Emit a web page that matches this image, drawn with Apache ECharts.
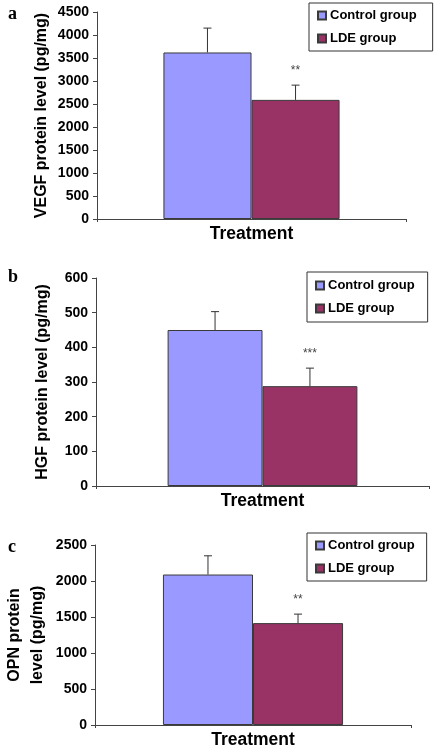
<!DOCTYPE html>
<html>
<head>
<meta charset="utf-8">
<script src="https://cdn.jsdelivr.net/npm/echarts@6/dist/echarts.min.js"></script>
<style>
html,body{margin:0;padding:0;background:#fff;}
#main{width:437px;height:749px;}
</style>
</head>
<body>
<div id="main"></div>
<script>
// ---- data ----
const categories = ['Treatment'];
const groupNames = ['Control group', 'LDE group'];
const panelLetters = ['a', 'b', 'c'];
const yNames = ['VEGF protein level (pg/mg)', 'HGF protein level (pg/mg)', 'OPN protein\nlevel (pg/mg)'];
const yMax = [4500, 600, 2500];
const yInterval = [500, 100, 500];
const vegfControl = [3620];
const vegfLDE = [2590];
const vegfControlErr = [530];
const vegfLDEErr = [320];
const hgfControl = [450];
const hgfLDE = [288];
const hgfControlErr = [53];
const hgfLDEErr = [52];
const opnControl = [2090];
const opnLDE = [1415];
const opnControlErr = [260];
const opnLDEErr = [125];
const stars = ['**', '***', '**'];

// ---- layout / style ----
const FONT = '"Liberation Sans", Arial, sans-serif';
const CTRL = '#9999FF';
const LDE = '#993366';
const EDGE = '#3a3a3a';
const GAP = 0.43;
const grids = [
  {left: 97, right: 31, top: 12, height: 207},
  {left: 96, right: 8, top: 278, height: 208},
  {left: 95, right: 26, top: 545, height: 180}
];
const legendPos = [
  {left: 309, top: 3, padding: [5, 16, 5, 8]},
  {left: 307, top: 272, padding: [6, 13, 6, 8]},
  {left: 307, top: 533, padding: [5, 12, 5, 8]}
];
const nameGaps = [44, 42, 46];
const letterTops = [5, 268, 538];

const panels = [
  {c: vegfControl, l: vegfLDE, ce: vegfControlErr, le: vegfLDEErr},
  {c: hgfControl, l: hgfLDE, ce: hgfControlErr, le: hgfLDEErr},
  {c: opnControl, l: opnLDE, ce: opnControlErr, le: opnLDEErr}
];

function errRender(params, api) {
  const cat = api.value(0);
  const mean = api.value(1);
  const err = api.value(2);
  const gi = api.value(3);
  const x = api.coord([cat, 0])[0];
  const band = api.size([1, 0])[0];
  const bw = band * (1 - GAP) / 2;
  const cx = x + (gi === 0 ? -bw / 2 : bw / 2);
  const base = api.coord([cat, mean])[1];
  const top = api.coord([cat, mean + err])[1];
  const children = [
    {type: 'line', shape: {x1: cx, y1: base, x2: cx, y2: top}, style: {stroke: '#333', lineWidth: 1}},
    {type: 'line', shape: {x1: cx - 4, y1: top, x2: cx + 4, y2: top}, style: {stroke: '#333', lineWidth: 1}}
  ];
  const label = api.value(4);
  if (gi === 1 && label) {
    children.push({type: 'text', style: {x: cx, y: top - 8, text: label, fill: '#444', font: '12px ' + FONT, align: 'center', verticalAlign: 'bottom'}});
  }
  return {type: 'group', children: children};
}

const option = {
  animation: false,
  backgroundColor: '#fff',
  title: panelLetters.map((t, i) => ({
    text: t, left: 8, top: letterTops[i], padding: 0,
    textStyle: {fontFamily: '"Liberation Serif", "Times New Roman", serif', fontWeight: 'bold', fontSize: 18, color: '#000'}
  })),
  grid: grids.map(g => Object.assign({containLabel: false, outerBoundsMode: 'none'}, g)),
  legend: legendPos.map(p => ({
    data: groupNames,
    orient: 'vertical',
    left: p.left, top: p.top, padding: p.padding,
    itemGap: 8, itemWidth: 8, itemHeight: 8,
    icon: 'rect',
    borderColor: '#333', borderWidth: 1,
    selectedMode: false,
    textStyle: {fontFamily: FONT, fontWeight: 'bold', fontSize: 13, color: '#000', lineHeight: 15, padding: [0, 0, 0, -1]}
  })),
  xAxis: grids.map((g, i) => ({
    type: 'category', gridIndex: i, data: categories,
    axisLine: {lineStyle: {color: '#444', width: 1}},
    axisTick: {show: true, length: 3, lineStyle: {color: '#444'}},
    axisLabel: {margin: 6, fontFamily: FONT, fontWeight: 'bold', fontSize: 17.5, color: '#000'}
  })),
  yAxis: grids.map((g, i) => ({
    type: 'value', gridIndex: i, min: 0, max: yMax[i], interval: yInterval[i],
    name: yNames[i], nameLocation: 'middle', nameRotate: 90, nameGap: nameGaps[i],
    nameMoveOverlap: false,
    nameTextStyle: {fontFamily: FONT, fontWeight: 'bold', fontSize: 16, color: '#000', lineHeight: 23},
    splitLine: {show: false},
    axisLine: {show: true, lineStyle: {color: '#444', width: 1}},
    axisTick: {show: true, length: 4, lineStyle: {color: '#444'}},
    axisLabel: {margin: 8, fontFamily: FONT, fontWeight: 'bold', fontSize: 14, color: '#000', formatter: v => String(v)}
  })),
  series: []
};

panels.forEach((p, i) => {
  option.series.push({
    name: groupNames[0], type: 'bar', xAxisIndex: i, yAxisIndex: i, data: p.c,
    barGap: 0, barCategoryGap: (GAP * 100) + '%',
    itemStyle: {color: CTRL, borderColor: EDGE, borderWidth: 1}
  });
  option.series.push({
    name: groupNames[1], type: 'bar', xAxisIndex: i, yAxisIndex: i, data: p.l,
    barGap: 0, barCategoryGap: (GAP * 100) + '%',
    itemStyle: {color: LDE, borderColor: EDGE, borderWidth: 1}
  });
  option.series.push({
    name: 'err' + i, type: 'custom', xAxisIndex: i, yAxisIndex: i, z: 5,
    renderItem: errRender,
    data: [
      [0, p.c[0], p.ce[0], 0, ''],
      [0, p.l[0], p.le[0], 1, stars[i]]
    ]
  });
});

const chart = echarts.init(document.getElementById('main'), null, {renderer: 'canvas'});
chart.setOption(option);
</script>
</body>
</html>
